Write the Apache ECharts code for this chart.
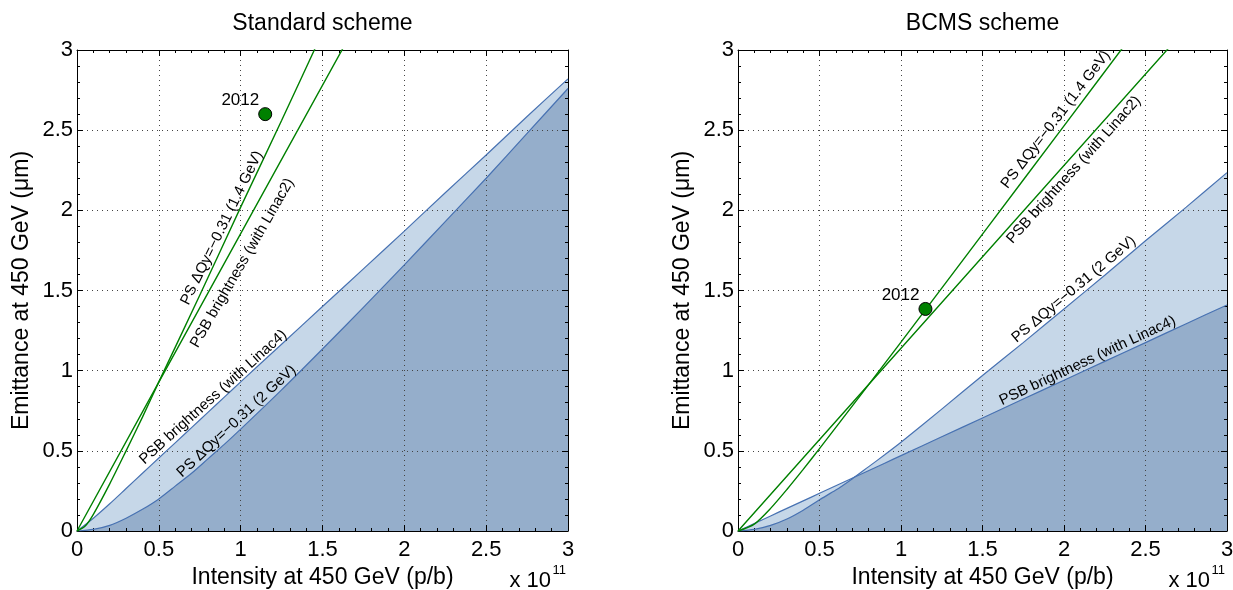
<!DOCTYPE html>
<html>
<head>
<meta charset="utf-8">
<script src="https://cdn.jsdelivr.net/npm/echarts/dist/echarts.min.js"></script>
<style>
html,body{margin:0;padding:0;background:#fff;}
#c{width:1233px;height:590px;}
</style>
</head>
<body>
<div id="c"></div>
<script>
// ---------------- DATA (x in units of 1e11 p/b, y in um) ----------------
const TITLES = ['Standard scheme', 'BCMS scheme'];
const X_NAME = 'Intensity at 450 GeV (p/b)';
const Y_NAME = 'Emittance at 450 GeV (\u03bcm)';
const TICK_LABELS = ['0', '0.5', '1', '1.5', '2', '2.5', '3'];

// Standard scheme
const STD_X = [0, 0.1, 0.2, 0.3, 0.4, 0.5, 0.6, 0.7, 0.8, 0.9, 1.0, 1.25, 1.5, 1.75, 2.0, 2.25, 2.5, 2.75, 3.0];
const STD_PS_2GEV = [0, 0.01, 0.035, 0.08, 0.135, 0.2, 0.28, 0.36, 0.45, 0.54, 0.635, 0.88, 1.135, 1.395, 1.66, 1.93, 2.2, 2.48, 2.76];
const STD_PSB_LINAC4 = [0, 0.08, 0.17, 0.265, 0.36, 0.455, 0.55, 0.645, 0.74, 0.835, 0.93, 1.165, 1.4, 1.635, 1.87, 2.11, 2.345, 2.585, 2.82];
const STD_PS_14GEV_X = [0, 0.05, 0.1, 0.2, 0.3, 0.4, 0.5, 0.75, 1.0, 1.25, 1.5];
const STD_PS_14GEV_Y = [0, 0.031, 0.104, 0.294, 0.50, 0.71, 0.93, 1.47, 2.02, 2.56, 3.11];
const STD_PSB_LINAC2_X = [0, 0.5, 1.0, 1.7];
const STD_PSB_LINAC2_Y = [0, 0.928, 1.855, 3.15];
const STD_2012 = [1.15, 2.6];

// BCMS scheme
const BCMS_X = [0, 0.1, 0.2, 0.3, 0.4, 0.5, 0.6, 0.7, 0.8, 0.9, 1.0, 1.25, 1.5, 1.75, 2.0, 2.25, 2.5, 2.75, 3.0];
const BCMS_PS_2GEV = [0, 0.01, 0.035, 0.075, 0.13, 0.195, 0.255, 0.325, 0.4, 0.475, 0.553, 0.76, 0.97, 1.175, 1.385, 1.595, 1.81, 2.02, 2.235];
const BCMS_PSB_LINAC4 = [0, 0.047, 0.094, 0.141, 0.188, 0.235, 0.282, 0.329, 0.376, 0.423, 0.47, 0.588, 0.705, 0.823, 0.94, 1.058, 1.175, 1.293, 1.41];
const BCMS_PS_14GEV_X = [0, 0.1, 0.2, 0.3, 0.4, 0.5, 0.75, 1.0, 1.5, 2.0, 2.5];
const BCMS_PS_14GEV_Y = [0, 0.043, 0.141, 0.259, 0.384, 0.514, 0.844, 1.178, 1.852, 2.527, 3.203];
const BCMS_PSB_LINAC2_X = [0, 1.0, 2.7];
const BCMS_PSB_LINAC2_Y = [0, 1.14, 3.078];
const BCMS_2012 = [1.15, 1.385];

// Curve annotations: text, anchor (data coords), angle (deg)
const ANN_TEXT = ['PS \u0394Qy=\u22120.31 (1.4 GeV)', 'PSB brightness (with Linac2)', 'PSB brightness (with Linac4)', 'PS \u0394Qy=\u22120.31 (2 GeV)'];
const ANN_STD_X = [0.885, 1.01, 0.832, 0.975];
const ANN_STD_Y = [1.89, 1.672, 0.835, 0.685];
const ANN_STD_ANGLE = [64, 60, 42, 43];
const ANN_BCMS_X = [1.95, 2.06, 2.145, 2.06];
const ANN_BCMS_Y = [2.566, 2.252, 1.062, 1.507];
const ANN_BCMS_ANGLE = [52.5, 48, 25, 40];

// ---------------- STYLE ----------------
const FONT = '"Liberation Sans", Arial, Helvetica, sans-serif';
const LIGHT = '#c6d7e8';
const DARK = '#95aecb';
const BLUE = '#4872b2';
const GREEN = '#008000';
const GRID_DOT = '#444';
const GRIDS = [
  {left: 77, top: 50, width: 491, height: 481},
  {left: 738, top: 50, width: 489, height: 481}
];

const zip = (xs, ys) => xs.map((x, i) => [x, ys[i]]);

function xAxis(g, pos, main) {
  return {
    type: 'value', gridIndex: g, position: pos, min: 0, max: 3, interval: 0.5, z: 3,
    axisLine: {show: true, onZero: false, lineStyle: {color: '#000', width: 1}},
    axisTick: {show: true, inside: true, length: 6, lineStyle: {color: '#000'}},
    minorTick: {show: true, splitNumber: 5, length: 3, lineStyle: {color: '#000'}},
    axisLabel: {show: main, margin: 8, color: '#000', fontSize: 22, fontFamily: FONT,
      formatter: v => TICK_LABELS[Math.round(v * 2)]},
    splitLine: {show: main, lineStyle: {color: GRID_DOT, width: 1, type: [1, 4]}},
    minorSplitLine: {show: false},
    name: main ? X_NAME : '', nameLocation: 'middle', nameGap: 27,
    nameTextStyle: {color: '#000', fontSize: 23, fontFamily: FONT}
  };
}
function yAxis(g, pos, main) {
  return {
    type: 'value', gridIndex: g, position: pos, min: 0, max: 3, interval: 0.5, z: 3,
    axisLine: {show: true, onZero: false, lineStyle: {color: '#000', width: 1}},
    axisTick: {show: true, inside: true, length: 6, lineStyle: {color: '#000'}},
    minorTick: {show: true, splitNumber: 5, length: 3, lineStyle: {color: '#000'}},
    axisLabel: {show: main, margin: 4, color: '#000', fontSize: 22, fontFamily: FONT,
      formatter: v => TICK_LABELS[Math.round(v * 2)]},
    splitLine: {show: main, lineStyle: {color: GRID_DOT, width: 1, type: [1, 4]}},
    minorSplitLine: {show: false},
    name: main ? Y_NAME : '', nameLocation: 'middle', nameGap: 44,
    nameTextStyle: {color: '#000', fontSize: 23, fontFamily: FONT}
  };
}

function panelSeries(axisIdx, xs, ps2, linac4, ps14x, ps14y, l2x, l2y, pt) {
  const upper = xs.map((x, i) => [x, Math.max(ps2[i], linac4[i])]);
  const lower = xs.map((x, i) => [x, Math.min(ps2[i], linac4[i])]);
  const base = {xAxisIndex: axisIdx, yAxisIndex: axisIdx, showSymbol: false, symbol: 'none', silent: true, animation: false};
  return [
    Object.assign({}, base, {type: 'line', z: 1, smooth: 0.25, data: upper, lineStyle: {width: 0, opacity: 0}, areaStyle: {color: LIGHT, opacity: 1}}),
    Object.assign({}, base, {type: 'line', z: 1, smooth: 0.25, data: lower, lineStyle: {width: 0, opacity: 0}, areaStyle: {color: DARK, opacity: 1}}),
    Object.assign({}, base, {type: 'line', z: 4, smooth: 0.25, data: zip(xs, ps2), lineStyle: {color: BLUE, width: 1.2}}),
    Object.assign({}, base, {type: 'line', z: 4, smooth: 0.25, data: zip(xs, linac4), lineStyle: {color: BLUE, width: 1.2}}),
    Object.assign({}, base, {type: 'line', z: 5, smooth: 0.25, data: zip(ps14x, ps14y), lineStyle: {color: GREEN, width: 1.4}}),
    Object.assign({}, base, {type: 'line', z: 5, data: zip(l2x, l2y), lineStyle: {color: GREEN, width: 1.4}}),
    {type: 'scatter', xAxisIndex: axisIdx, yAxisIndex: axisIdx, z: 6, silent: true, animation: false,
      data: [pt], symbol: 'circle', symbolSize: 13,
      itemStyle: {color: GREEN, borderColor: '#000', borderWidth: 1, opacity: 1},
      label: {show: true, formatter: '2012', position: 'left', distance: 0, offset: [1, -14],
        color: '#000', opacity: 1, fontSize: 17, fontFamily: FONT, textBorderWidth: 0}}
  ];
}

const chart = echarts.init(document.getElementById('c'), null, {renderer: 'canvas'});
chart.setOption({
  animation: false,
  backgroundColor: '#fff',
  grid: GRIDS.map(g => Object.assign({show: false, outerBoundsMode: 'none', containLabel: false}, g)),
  xAxis: [xAxis(0, 'bottom', true), xAxis(0, 'top', false), xAxis(1, 'bottom', true), xAxis(1, 'top', false)],
  yAxis: [yAxis(0, 'left', true), yAxis(0, 'right', false), yAxis(1, 'left', true), yAxis(1, 'right', false)],
  series: [].concat(
    panelSeries(0, STD_X, STD_PS_2GEV, STD_PSB_LINAC4, STD_PS_14GEV_X, STD_PS_14GEV_Y, STD_PSB_LINAC2_X, STD_PSB_LINAC2_Y, STD_2012),
    panelSeries(2, BCMS_X, BCMS_PS_2GEV, BCMS_PSB_LINAC4, BCMS_PS_14GEV_X, BCMS_PS_14GEV_Y, BCMS_PSB_LINAC2_X, BCMS_PSB_LINAC2_Y, BCMS_2012)
  )
});

// ---------------- TEXT OVERLAYS ----------------
const graphics = [];
function addText(x, y, text, size, align, rot) {
  graphics.push({type: 'text', x: x, y: y, rotation: (rot || 0) * Math.PI / 180, z: 10, silent: true,
    style: {text: text, fill: '#000', font: size + 'px ' + FONT,
      textAlign: align, align: align, textVerticalAlign: 'middle', verticalAlign: 'middle'}});
}
GRIDS.forEach((g, i) => {
  addText(g.left + g.width / 2, 24, TITLES[i], 23, 'center');
  const right = g.left + g.width;
  addText(right - 17, 581, 'x 10', 22, 'right');
  addText(right - 2, 570, '11', 13, 'right');
});
function addAnnotations(axisIdx, xs, ys, angles) {
  xs.forEach((x, i) => {
    const p = chart.convertToPixel({xAxisIndex: axisIdx, yAxisIndex: axisIdx}, [x, ys[i]]);
    addText(p[0], p[1], ANN_TEXT[i], 15, 'center', angles[i]);
  });
}
addAnnotations(0, ANN_STD_X, ANN_STD_Y, ANN_STD_ANGLE);
addAnnotations(2, ANN_BCMS_X, ANN_BCMS_Y, ANN_BCMS_ANGLE);
chart.setOption({graphic: graphics});
</script>
</body>
</html>
